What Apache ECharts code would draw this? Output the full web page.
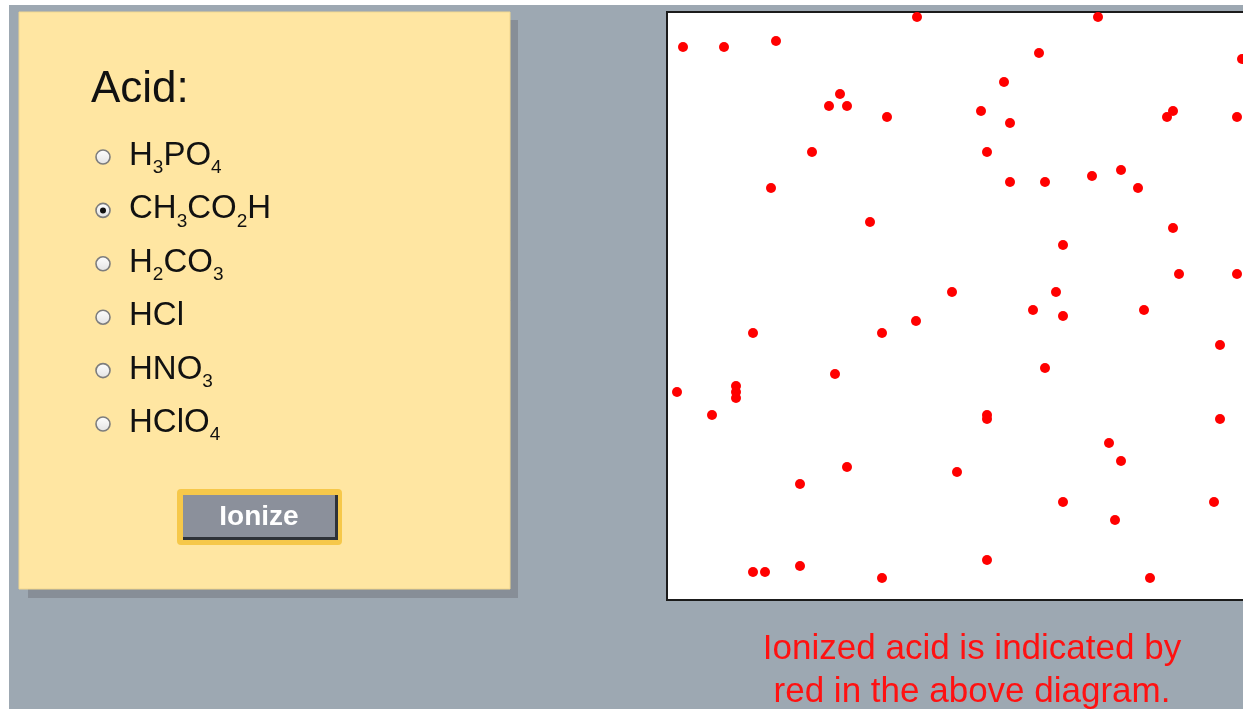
<!DOCTYPE html>
<html>
<head>
<meta charset="utf-8">
<script src="https://cdn.jsdelivr.net/npm/echarts@6/dist/echarts.min.js"></script>
<style>
  html, body { margin: 0; padding: 0; background: #fff; }
  #main { width: 1243px; height: 709px; }
</style>
</head>
<body>
<div id="main"></div>
<script>
// acid choices (rich text: {s|n} = subscript)
var acids = ['H{s|3}PO{s|4}', 'CH{s|3}CO{s|2}H', 'H{s|2}CO{s|3}', 'HCl', 'HNO{s|3}', 'HClO{s|4}'];
var selectedAcid = 1;

// ionized particles, position inside the box (x from left, y from top)
var ionX = [16, 57, 109, 250, 431, 372, 575, 337, 173, 162, 180, 220, 314, 506, 500, 570,
  343, 145, 320, 104, 343, 378, 425, 454, 471, 203, 506, 396, 512, 570, 285, 389,
  366, 396, 477, 249, 215, 86, 553, 378, 168, 10, 69, 69, 69, 45, 320, 320,
  553, 442, 454, 180, 290, 133, 396, 547, 448, 86, 98, 133, 320, 215, 483];
var ionY = [35, 35, 29, 5, 5, 41, 47, 70, 82, 94, 94, 105, 99, 99, 105, 105,
  111, 140, 140, 176, 170, 170, 164, 158, 176, 210, 216, 233, 262, 262, 280, 280,
  298, 304, 298, 309, 321, 321, 333, 356, 362, 380, 374, 380, 386, 403, 403, 407,
  407, 431, 449, 455, 460, 472, 490, 490, 508, 560, 560, 554, 548, 566, 566];

var points = ionX.map(function (x, i) { return [x, ionY[i]]; });

var myChart = echarts.init(document.getElementById('main'));

var font = '"Liberation Sans", Arial, Helvetica, sans-serif';
var graphics = [];

// green heading, mostly cut off above the page
graphics.push({
  type: 'text', z: 0, x: 224, y: 7.4,
  style: { text: 'Acid ionization is shown for each situation.', font: 'bold 31px ' + font, fill: '#1ed81e', verticalAlign: 'bottom', textAlign: 'left' }
});
// grey page
graphics.push({ type: 'rect', z: 1, shape: { x: 9, y: 5, width: 1240, height: 710 }, style: { fill: '#9da8b2' } });
// panel + shadow
graphics.push({ type: 'rect', z: 2, shape: { x: 28, y: 20, width: 490, height: 578 }, style: { fill: '#878e97' } });
graphics.push({ type: 'rect', z: 3, shape: { x: 19, y: 12, width: 491, height: 577 }, style: { fill: '#ffe6a2', stroke: '#f1d78f', lineWidth: 1 } });
graphics.push({
  type: 'text', z: 4, x: 91, y: 90,
  style: { text: 'Acid:', font: '44px ' + font, fill: '#111', verticalAlign: 'middle' }
});

acids.forEach(function (a, i) {
  var cy = 157 + i * 53.4;
  graphics.push({
    type: 'circle', z: 4, shape: { cx: 103, cy: cy, r: 7 },
    style: {
      fill: new echarts.graphic.LinearGradient(0, 0, 0, 1, [{ offset: 0, color: '#ffffff' }, { offset: 1, color: '#e2e2e2' }]),
      stroke: '#7d7d7d', lineWidth: 1.6
    }
  });
  if (i === selectedAcid) {
    graphics.push({ type: 'circle', z: 5, shape: { cx: 103, cy: cy, r: 3 }, style: { fill: '#111' } });
  }
  graphics.push({
    type: 'text', z: 4, x: 129, y: cy - 1,
    style: {
      text: a, fontSize: 33, fontFamily: font, fill: '#111', lineHeight: 40, verticalAlign: 'middle',
      rich: { s: { fontSize: 19, fontFamily: font, fill: '#111', lineHeight: 40, padding: [24, 0, 0, 0] } }
    }
  });
});

// Ionize button
graphics.push({ type: 'rect', z: 4, shape: { x: 177, y: 489, width: 165, height: 56, r: 4 }, style: { fill: '#f6c84a' } });
graphics.push({ type: 'rect', z: 5, shape: { x: 183, y: 495, width: 155, height: 45 }, style: { fill: '#2e3238' } });
graphics.push({ type: 'rect', z: 6, shape: { x: 183, y: 495, width: 152, height: 42 }, style: { fill: '#8b909b' } });
graphics.push({
  type: 'text', z: 7, x: 259, y: 517,
  style: { text: 'Ionize', font: 'bold 28px ' + font, fill: '#fff', textAlign: 'center', verticalAlign: 'middle' }
});

// caption
graphics.push({
  type: 'text', z: 4, x: 972, y: 671,
  style: {
    text: 'Ionized acid is indicated by\nred in the above diagram.', font: '35px ' + font, fill: '#ff1111',
    textAlign: 'center', verticalAlign: 'middle', lineHeight: 43
  }
});

var option = {
  backgroundColor: '#ffffff',
  animation: false,
  graphic: graphics,
  grid: {
    show: true, left: 667, top: 12, width: 620, height: 588, outerBoundsMode: 'none',
    backgroundColor: '#ffffff', borderColor: '#1b1b1b', borderWidth: 2, z: 5
  },
  xAxis: { type: 'value', min: 0, max: 620, show: false },
  yAxis: { type: 'value', min: 0, max: 588, inverse: true, show: false },
  series: [{
    type: 'scatter', data: points, symbol: 'circle', symbolSize: 10, clip: false, z: 6,
    itemStyle: { color: '#ff0000', opacity: 1 }, silent: true
  }]
};

myChart.setOption(option);
</script>
</body>
</html>
